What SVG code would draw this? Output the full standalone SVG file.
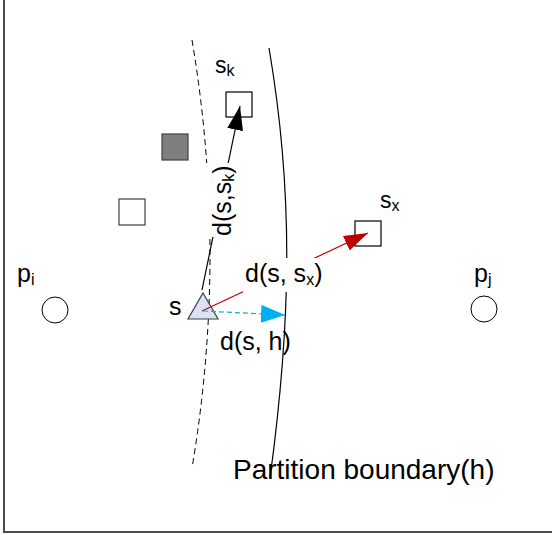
<svg xmlns="http://www.w3.org/2000/svg" width="552" height="535" viewBox="0 0 552 535">
<style>
text{font-family:"Liberation Sans",Arial,sans-serif;fill:#000}
.lbl{font-size:25px}
.sub{font-size:16px}
.box{fill:#fff;stroke:#000;stroke-width:1.2}
.bg{fill:#fff;stroke:none}
</style>
<defs>
<marker id="ahBlack" viewBox="0 0 24 16" refX="24" refY="8" markerWidth="24" markerHeight="16" markerUnits="userSpaceOnUse" orient="auto"><path d="M0,0 L24,8 L0,16 Z" fill="#000"/></marker>
<marker id="ahRed" viewBox="0 0 24 16" refX="24" refY="8" markerWidth="24" markerHeight="16" markerUnits="userSpaceOnUse" orient="auto"><path d="M0,0 L24,8 L0,16 Z" fill="#c00000"/></marker>
<marker id="ahBlue" viewBox="0 0 24 18" refX="24" refY="9" markerWidth="24" markerHeight="18" markerUnits="userSpaceOnUse" orient="auto"><path d="M0,0 L24,9 L0,18 Z" fill="#00b0f0"/></marker>
</defs>
<rect id="frame" x="4" y="-10" width="560" height="542" fill="#fff" stroke="#4d4d4d" stroke-width="2"/>
<g id="boundaries">
<path d="M192,40 Q228,254 192,468" fill="none" stroke="#000" stroke-width="1" stroke-dasharray="6,4"/>
<path d="M269,48 C295,200 290,330 270,478" fill="none" stroke="#000" stroke-width="1.2"/>
</g>
<g id="node-pi"><circle cx="55" cy="310" r="13" fill="#fff" stroke="#000" stroke-width="1"/><text x="17" y="282" font-size="25">p<tspan class="sub" dy="3">i</tspan></text></g>
<g id="node-pj"><circle cx="484" cy="309" r="13" fill="#fff" stroke="#000" stroke-width="1"/><text x="474" y="282" font-size="25">p<tspan class="sub" dy="3">j</tspan></text></g>
<g id="node-sk"><rect class="box" x="226" y="92" width="26" height="25"/><text x="215" y="73" font-size="23">s<tspan class="sub" dy="3">k</tspan></text></g>
<g id="node-gray"><rect x="162" y="134" width="26" height="26" fill="#7f7f7f" stroke="#404040" stroke-width="1.2"/></g>
<g id="node-white"><rect x="119" y="199" width="26" height="26" fill="#fff" stroke="#404040" stroke-width="1.2"/></g>
<g id="node-sx"><rect class="box" x="355" y="221" width="26" height="25"/><text x="380" y="208" font-size="23">s<tspan class="sub" dy="3">x</tspan></text></g>
<g id="node-s"><path d="M203,293 L218,319 L188,319 Z" fill="#dae3f3" stroke="#404040" stroke-width="1.2"/><text class="lbl" x="169" y="315">s</text></g>
<g id="connectors">
<line x1="202" y1="290" x2="240" y2="106" stroke="#000" stroke-width="1.2" marker-end="url(#ahBlack)"/>
<line x1="202" y1="311" x2="368" y2="233" stroke="#c00000" stroke-width="1.2" marker-end="url(#ahRed)"/>
<line x1="203" y1="311" x2="285" y2="315" stroke="#00b0f0" stroke-width="1.2" stroke-dasharray="5,3" marker-end="url(#ahBlue)"/>
</g>
<g id="labels">
<rect class="bg" x="205" y="163" width="34" height="74"/>
<text class="lbl" font-size="24" transform="translate(231,236) rotate(-90)">d(s,s<tspan class="sub" dy="3">k</tspan><tspan dy="-3">)</tspan></text>
<rect class="bg" x="243" y="258" width="84" height="34"/>
<text class="lbl" x="245" y="282">d(s, s<tspan class="sub" dy="3">x</tspan><tspan dy="-3">)</tspan></text>
<text class="lbl" x="220" y="350">d(s, h)</text>
<text x="233" y="479" font-size="28">Partition boundary(h)</text>
</g>
</svg>
